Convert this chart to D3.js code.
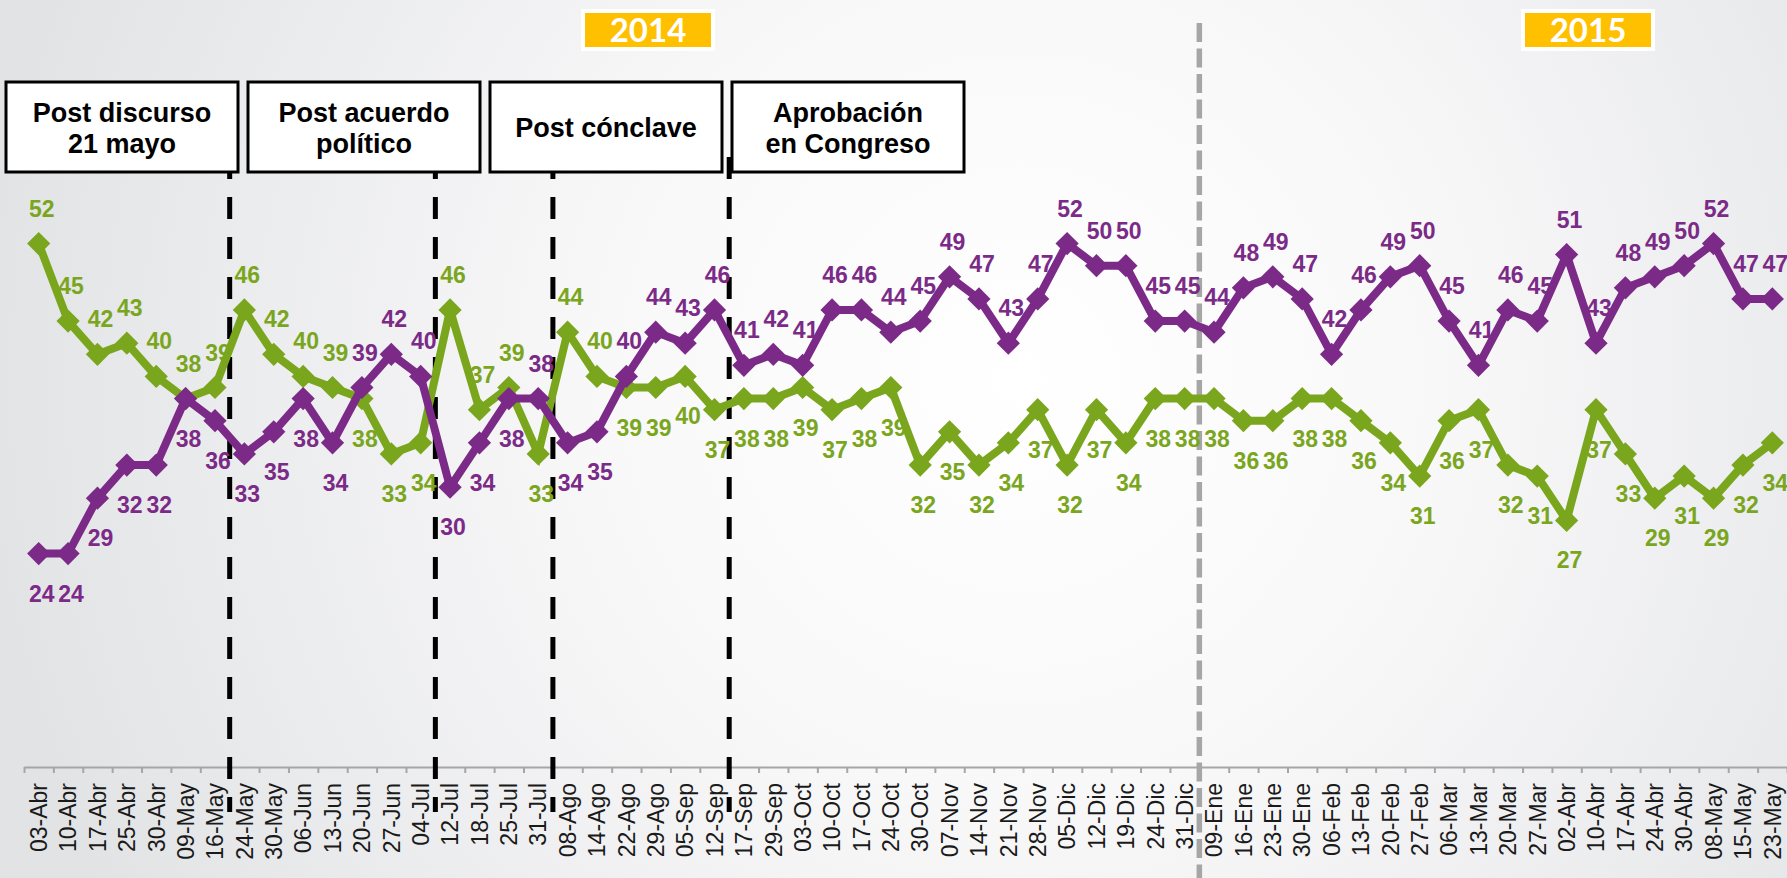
<!DOCTYPE html>
<html>
<head>
<meta charset="utf-8">
<script src="https://cdn.jsdelivr.net/npm/d3@7"></script>
<style>
  html, body { margin: 0; padding: 0; overflow: hidden; background: #fff; }
  svg { display: block; }
</style>
</head>
<body>
<div id="chart"></div>
<script>
// fechas de medición (abril 2014 - mayo 2015)
const fechas = [
    '03-Abr', '10-Abr', '17-Abr', '25-Abr', '30-Abr', '09-May', '16-May', '24-May', '30-May', '06-Jun',
    '13-Jun', '20-Jun', '27-Jun', '04-Jul', '12-Jul', '18-Jul', '25-Jul', '31-Jul', '08-Ago', '14-Ago',
    '22-Ago', '29-Ago', '05-Sep', '12-Sep', '17-Sep', '29-Sep', '03-Oct', '10-Oct', '17-Oct', '24-Oct',
    '30-Oct', '07-Nov', '14-Nov', '21-Nov', '28-Nov', '05-Dic', '12-Dic', '19-Dic', '24-Dic', '31-Dic',
    '09-Ene', '16-Ene', '23-Ene', '30-Ene', '06-Feb', '13-Feb', '20-Feb', '27-Feb', '06-Mar', '13-Mar',
    '20-Mar', '27-Mar', '02-Abr', '10-Abr', '17-Abr', '24-Abr', '30-Abr', '08-May', '15-May', '23-May'
];

const serieMorada = [
    24, 24, 29, 32, 32, 38, 36, 33, 35, 38,
    34, 39, 42, 40, 30, 34, 38, 38, 34, 35,
    40, 44, 43, 46, 41, 42, 41, 46, 46, 44,
    45, 49, 47, 43, 47, 52, 50, 50, 45, 45,
    44, 48, 49, 47, 42, 46, 49, 50, 45, 41,
    46, 45, 51, 43, 48, 49, 50, 52, 47, 47
];

const serieVerde = [
    52, 45, 42, 43, 40, 38, 39, 46, 42, 40,
    39, 38, 33, 34, 46, 37, 39, 33, 44, 40,
    39, 39, 40, 37, 38, 38, 39, 37, 38, 39,
    32, 35, 32, 34, 37, 32, 37, 34, 38, 38,
    38, 36, 36, 38, 38, 36, 34, 31, 36, 37,
    32, 31, 27, 37, 33, 29, 31, 29, 32, 34
];

// hitos (la línea cae antes de esta fecha)
const hitos = [
    { fecha: '24-May', texto: ['Post discurso', '21 mayo'] },
    { fecha: '12-Jul', texto: ['Post acuerdo', 'político'] },
    { fecha: '08-Ago', texto: ['Post cónclave'] },
    { fecha: '17-Sep', texto: ['Aprobación', 'en Congreso'] }
];
const anios = ['2014', '2015'];
const inicioAnio = '09-Ene';

const W = 1787, H = 878;
const MORADO = '#7B2A87', VERDE = '#7AA61E';

const svg = d3.select('#chart').append('svg')
    .attr('width', W)
    .attr('height', H);

/* fondo */
const defs = svg.append('defs');
const grad = defs.append('radialGradient')
    .attr('id', 'fondo')
    .attr('gradientUnits', 'userSpaceOnUse')
    .attr('cx', 1020).attr('cy', 380).attr('r', 1050);
grad.append('stop').attr('offset', '0%').attr('stop-color', '#ffffff');
grad.append('stop').attr('offset', '40%').attr('stop-color', '#f8f8f9');
grad.append('stop').attr('offset', '100%').attr('stop-color', '#e2e3e5');
svg.append('rect').attr('width', W).attr('height', H).attr('fill', 'url(#fondo)');

/* escalas */
const axisY = 767;
const x = d3.scaleBand()
    .domain(d3.range(fechas.length))
    .range([24, W])
    .paddingInner(0);
const xb = d3.scaleLinear()
    .domain([0, fechas.length])
    .range([24, W]);
const y = d3.scaleLinear()
    .domain([5, 73])
    .range([764, 11]);
const cx = (i) => x(i) + x.bandwidth() / 2;

/* eje x */
const ejeTicks = svg.append('g')
    .attr('transform', `translate(0,${axisY})`)
    .call(d3.axisBottom(xb).ticks(fechas.length).tickFormat('').tickSizeInner(6).tickSizeOuter(0));
ejeTicks.select('.domain').attr('stroke', '#a6a6a6').attr('stroke-width', 2);
ejeTicks.selectAll('.tick line').attr('stroke', '#a6a6a6').attr('stroke-width', 2);

const ejeLabels = svg.append('g')
    .attr('transform', `translate(0,${axisY})`)
    .call(d3.axisBottom(x).tickSize(0).tickFormat((i) => fechas[i]));
ejeLabels.select('.domain').remove();
ejeLabels.selectAll('text')
    .attr('transform', 'rotate(-90)')
    .attr('text-anchor', 'end')
    .attr('x', -16)
    .attr('y', 0)
    .attr('dy', '0.36em')
    .style('font-family', '"Liberation Sans", Arial, sans-serif')
    .style('font-size', '23px')
    .attr('fill', '#1a1a1a');

/* línea de cambio de año */
const xAnio = xb(fechas.indexOf(inicioAnio));
svg.append('line')
    .attr('x1', xAnio).attr('x2', xAnio)
    .attr('y1', 23).attr('y2', H)
    .attr('stroke', '#a6a6a6')
    .attr('stroke-width', 5.5)
    .attr('stroke-dasharray', '19 6.5');

/* líneas de hitos */
svg.append('g').selectAll('line')
    .data(hitos)
    .join('line')
    .attr('x1', (d) => xb(fechas.indexOf(d.fecha)))
    .attr('x2', (d) => xb(fechas.indexOf(d.fecha)))
    .attr('y1', 157).attr('y2', 812)
    .attr('stroke', '#000')
    .attr('stroke-width', 5)
    .attr('stroke-dasharray', '22 18');

/* series */
const linea = d3.line()
    .x((d, i) => cx(i))
    .y((d) => y(d));
const diamante = d3.symbol().type(d3.symbolSquare).size(270);

const series = [
    { valores: serieVerde, otra: serieMorada, color: VERDE, arribaSiIgual: true },
    { valores: serieMorada, otra: serieVerde, color: MORADO, arribaSiIgual: false }
];

series.forEach((s) => {
    const g = svg.append('g');
    g.append('path')
        .attr('d', linea(s.valores))
        .attr('fill', 'none')
        .attr('stroke', s.color)
        .attr('stroke-width', 8)
        .attr('stroke-linejoin', 'miter');
    g.selectAll('.punto')
        .data(s.valores)
        .join('path')
        .attr('class', 'punto')
        .attr('d', diamante)
        .attr('fill', s.color)
        .attr('transform', (d, i) => `translate(${cx(i)},${y(d)}) rotate(45)`);
});

/* etiquetas de datos (la serie más alta arriba, la más baja abajo) */
series.forEach((s) => {
    svg.append('g').selectAll('text')
        .data(s.valores)
        .join('text')
        .attr('x', (d, i) => cx(i) + 3)
        .attr('y', (d, i) => {
            const arriba = d > s.otra[i] || (d === s.otra[i] && s.arribaSiIgual);
            return arriba ? y(d) - 27 : y(d) + 48;
        })
        .attr('text-anchor', 'middle')
        .style('font-family', '"Liberation Sans", Arial, sans-serif')
        .style('font-size', '23px')
        .style('font-weight', 'bold')
        .attr('fill', s.color)
        .text((d) => d);
});

/* cajas de hitos */
const cajas = svg.append('g').selectAll('g')
    .data(hitos)
    .join('g')
    .attr('transform', (d, i) => `translate(${6 + i * 242},82)`);
cajas.append('rect')
    .attr('width', 232)
    .attr('height', 90)
    .attr('fill', '#fff')
    .attr('stroke', '#000')
    .attr('stroke-width', 3);
cajas.append('text')
    .attr('text-anchor', 'middle')
    .style('font-family', '"Liberation Sans", Arial, sans-serif')
    .style('font-size', '27px')
    .style('font-weight', 'bold')
    .attr('fill', '#000')
    .selectAll('tspan')
    .data((d) => d.texto.map((t) => ({ t, n: d.texto.length })))
    .join('tspan')
    .attr('x', 116)
    .attr('y', (d, i) => d.n === 1 ? 55 : 40 + i * 31)
    .text((d) => d.t);

/* etiquetas de año */
const xAnios = [648, 1588];
const badges = svg.append('g').selectAll('g')
    .data(anios)
    .join('g')
    .attr('transform', (d, i) => `translate(${xAnios[i]},30)`);
badges.append('rect')
    .attr('x', -65).attr('y', -19)
    .attr('width', 130).attr('height', 38)
    .attr('fill', '#FFC000')
    .attr('stroke', '#fff')
    .attr('stroke-width', 4);
badges.append('text')
    .attr('text-anchor', 'middle')
    .attr('y', 12)
    .style('font-family', 'Lato, "Open Sans", sans-serif')
    .style('font-size', '33px')
    .style('font-weight', 'bold')
    .attr('fill', '#fff')
    .text((d) => d);
</script>
</body>
</html>
